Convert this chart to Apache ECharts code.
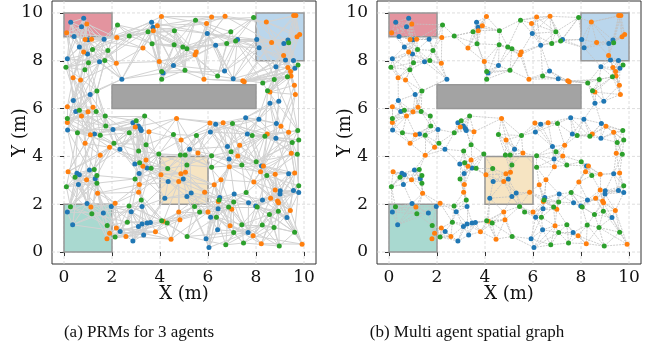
<!DOCTYPE html>
<html>
<head>
<meta charset="utf-8">
<script src="https://cdn.jsdelivr.net/npm/echarts@6/dist/echarts.min.js"></script>
<style>
  html, body { margin: 0; padding: 0; background: #fff; }
  #chart { width: 662px; height: 362px; }
</style>
</head>
<body>
<div id="chart"></div>
<script>
// node positions (m), one list per agent
const blueNodes = [
  [0.28,9.61],[0.82,9.78],[0.73,9.42],[0.42,9.01],[1.00,8.88],[1.67,8.90],[0.64,8.58],[0.98,8.28],
  [0.14,8.08],[1.48,7.96],[2.41,7.23],[1.09,6.59],[0.39,6.34],[0.49,5.88],[0.15,5.10],[1.27,4.94],
  [2.04,5.13],[2.33,4.30],[2.87,5.41],[3.10,5.27],[3.18,5.17],[3.22,5.08],[3.65,9.61],[3.71,9.40],
  [4.56,7.80],[4.13,7.49],[5.97,9.14],[7.23,8.89],[6.32,8.65],[6.69,7.57],[7.05,7.25],[8.03,8.89],
  [9.16,8.72],[9.33,8.87],[8.13,8.54],[9.23,8.03],[9.56,8.01],[8.83,7.75],[9.62,7.69],[8.95,6.31],
  [8.58,6.22],[7.57,5.62],[8.12,5.55],[6.32,5.35],[8.85,5.38],[6.10,5.02],[7.64,4.94],[8.83,4.76],
  [5.23,4.30],[6.81,4.41],[6.88,3.89],[8.23,3.60],[9.36,3.27],[9.01,2.56],[9.00,2.43],[9.56,2.57],
  [9.78,2.49],[7.09,2.43],[8.27,2.18],[7.69,2.06],[6.49,2.28],[6.42,1.81],[7.99,1.93],[9.29,1.45],
  [6.11,1.46],[6.40,0.93],[7.67,0.82],[5.92,0.56],[6.04,0.19],[5.30,2.47],[5.12,2.32],[4.97,3.06],
  [4.34,2.95],[4.20,2.25],[2.95,3.68],[3.46,3.52],[3.13,3.28],[3.25,1.90],[2.80,1.69],[3.10,1.07],
  [3.25,1.17],[3.46,1.22],[3.60,1.24],[2.34,0.86],[2.87,0.46],[3.32,0.71],[0.36,1.14],[0.14,1.67],
  [0.96,2.03],[1.97,1.90],[1.64,1.63],[0.54,3.30],[0.64,3.23],[1.06,3.43],[1.30,3.07],[0.60,2.83]
];
const orangeNodes = [
  [0.95,9.54],[0.11,9.17],[0.88,8.89],[1.15,8.90],[2.20,8.97],[0.82,8.37],[2.18,7.90],[0.38,7.29],
  [0.69,7.20],[0.14,6.08],[1.21,6.06],[1.00,5.87],[0.73,5.69],[0.14,5.42],[1.10,4.91],[0.88,4.55],
  [1.90,4.38],[1.51,4.05],[2.97,5.23],[3.54,5.03],[4.69,5.59],[4.06,9.85],[3.89,9.47],[3.72,9.26],
  [3.29,8.53],[3.97,7.97],[6.15,9.83],[6.71,9.86],[5.94,9.56],[5.51,8.37],[5.46,8.25],[5.83,7.23],
  [7.45,7.16],[7.51,7.12],[8.43,9.62],[9.57,9.89],[9.66,9.89],[9.82,9.10],[9.71,9.00],[8.65,8.76],
  [9.15,8.22],[9.33,7.72],[9.44,7.55],[9.46,7.36],[9.60,6.98],[8.58,6.69],[9.64,6.59],[6.08,5.40],
  [6.63,5.41],[9.04,5.26],[8.47,4.94],[9.36,5.01],[4.88,4.69],[7.32,4.47],[7.24,4.02],[6.89,3.57],
  [6.54,3.02],[6.26,2.81],[8.31,3.60],[8.19,3.36],[7.91,2.93],[8.80,3.25],[9.61,3.31],[9.47,4.13],
  [8.80,2.59],[8.61,2.25],[8.90,2.13],[8.94,2.06],[6.43,2.11],[6.99,1.79],[9.43,1.74],[6.00,1.67],
  [6.92,1.10],[7.88,0.68],[8.22,0.35],[9.92,0.33],[4.46,0.54],[4.78,1.68],[4.83,1.35],[4.14,1.29],
  [3.81,0.85],[2.58,0.65],[2.18,1.01],[1.90,0.79],[1.79,0.56],[2.13,2.04],[1.12,1.88],[1.40,2.46],
  [0.17,3.36],[0.94,3.02],[3.29,3.59],[3.14,2.82],[3.11,2.50],[4.04,3.23],[4.78,2.95],[4.87,3.27],
  [5.06,3.34],[5.86,2.50],[5.58,4.14],[3.42,3.85]
];
const greenNodes = [
  [2.23,9.50],[2.72,9.04],[1.19,8.47],[1.83,8.43],[1.02,7.92],[1.70,8.01],[0.08,7.73],[0.87,7.62],
  [1.37,6.74],[0.64,5.93],[1.34,5.88],[0.14,5.59],[0.56,4.99],[1.51,4.88],[1.74,5.27],[1.72,5.69],
  [2.08,4.55],[2.72,4.99],[3.01,5.49],[3.36,5.69],[3.42,4.49],[3.11,4.23],[3.95,4.10],[3.50,9.21],
  [4.60,9.26],[3.67,8.71],[4.59,8.67],[4.95,8.58],[5.12,8.50],[4.07,7.55],[4.07,7.23],[5.48,9.70],
  [6.95,9.21],[7.15,8.83],[6.78,8.72],[5.04,7.60],[6.40,7.36],[7.90,9.81],[9.36,8.75],[9.75,7.82],
  [9.31,7.33],[8.76,7.22],[8.28,7.07],[8.48,6.75],[7.02,5.38],[9.74,5.08],[5.52,4.87],[7.84,4.87],
  [8.37,4.84],[9.51,4.58],[9.78,4.69],[9.72,4.09],[6.96,4.20],[7.41,3.64],[6.15,4.03],[6.15,3.55],
  [8.01,3.78],[8.45,3.20],[9.78,2.77],[7.59,2.49],[7.07,2.09],[6.46,2.18],[6.86,1.88],[8.05,1.88],
  [8.93,1.71],[8.56,1.57],[6.35,1.46],[5.65,1.67],[7.41,1.14],[8.26,1.13],[7.07,0.82],[8.75,1.03],
  [9.61,0.83],[6.74,0.30],[7.48,0.38],[8.97,0.25],[5.13,0.65],[4.30,1.21],[4.07,1.31],[4.56,4.92],
  [4.85,4.06],[5.05,4.06],[5.12,3.64],[4.32,3.49],[5.44,1.91],[3.15,3.73],[3.63,3.50],[2.96,3.06],
  [3.22,2.18],[2.71,1.93],[2.64,1.25],[2.13,0.63],[1.80,1.11],[0.27,1.89],[1.16,1.60],[0.46,3.13],
  [1.26,3.45],[1.37,3.20],[0.10,2.73],[1.37,2.88]
];

// regions: [x0, y0, x1, y1]
const zones = [[0,9,2,10],[8,8,10,10],[2,6,8,7],[4,2,6,4],[0,0,2,2]];
const zoneFills = ['#e3949f','#bad6ec','#a3a3a3','#f6e4c2','#a9d9d0'];
const obstacle = [2,6,8,7];

const tickValues = [0,2,4,6,8,10];
const captions = ['(a) PRMs for 3 agents', '(b) Multi agent spatial graph'];
const agentColors = ['#1f77b4','#ff7f0e','#2ca02c'];
const agents = [blueNodes, orangeNodes, greenNodes];

// does segment a-b cross the obstacle box
function crossesBox(a, b, r) {
  let t0 = 0, t1 = 1;
  const dx = b[0] - a[0], dy = b[1] - a[1];
  const p = [-dx, dx, -dy, dy];
  const q = [a[0] - r[0], r[2] - a[0], a[1] - r[1], r[3] - a[1]];
  for (let i = 0; i < 4; i++) {
    if (p[i] === 0) { if (q[i] < 0) return false; continue; }
    const t = q[i] / p[i];
    if (p[i] < 0) { if (t > t1) return false; if (t > t0) t0 = t; }
    else { if (t < t0) return false; if (t < t1) t1 = t; }
  }
  return true;
}

function nearestEdges(nodes, k, maxDist) {
  const seen = {}, out = [];
  nodes.forEach((a, i) => {
    const order = nodes.map((b, j) => [j, Math.hypot(a[0]-b[0], a[1]-b[1])])
      .filter(d => d[0] !== i && d[1] <= maxDist)
      .sort((u, v) => u[1] - v[1]);
    let n = 0;
    for (const [j] of order) {
      if (n >= k) break;
      if (crossesBox(a, nodes[j], obstacle)) continue;
      n++;
      const key = Math.min(i, j) + '-' + Math.max(i, j);
      if (seen[key]) continue;
      seen[key] = 1;
      out.push({ coords: [a, nodes[j]] });
    }
  });
  return out;
}

// (a) one roadmap per agent, (b) one shared spatial graph
const prmEdges = [].concat(...agents.map(nodes => nearestEdges(nodes, 7, 99)));
const spatialEdges = nearestEdges([].concat(...agents), 6, 1.5);

const chart = echarts.init(document.getElementById('chart'));
const serif = 'DejaVu Serif';
const gridLeft = [52, 377];

function axisPair(i) {
  const common = {
    gridIndex: i, type: 'value', min: -0.5, max: 10.5,
    axisLine: { show: false },
    splitLine: { show: false },
    axisTick: { show: true, inside: false, length: 4, customValues: tickValues, lineStyle: { color: '#333' } },
    nameTextStyle: { fontFamily: serif, fontSize: 18, color: '#111' },
    nameLocation: 'middle',
    nameMoveOverlap: false
  };
  return [
    Object.assign({}, common, { name: 'X (m)', nameGap: 21,
      axisLabel: { customValues: tickValues, margin: 5, fontFamily: serif, fontSize: 17, color: '#111' } }),
    Object.assign({}, common, { name: 'Y (m)', nameGap: 23,
      axisLabel: { customValues: tickValues, margin: 9, fontFamily: serif, fontSize: 17, color: '#111' } })
  ];
}

const series = [];
[0, 1].forEach(i => {
  // dashed grid at the tick values, under everything
  series.push({
    type: 'custom', xAxisIndex: i, yAxisIndex: i, silent: true, z: 0,
    data: tickValues.map(v => [v]),
    encode: { x: 0 },
    renderItem: (params, api) => {
      const v = api.value(0);
      const a = api.coord([v, -0.5]), b = api.coord([v, 10.5]);
      const c = api.coord([-0.5, v]), d = api.coord([10.5, v]);
      const st = { stroke: '#d6d6d6', lineWidth: 0.8, lineDash: [3, 2] };
      return { type: 'group', children: [
        { type: 'line', shape: { x1: a[0], y1: a[1], x2: b[0], y2: b[1] }, style: st },
        { type: 'line', shape: { x1: c[0], y1: c[1], x2: d[0], y2: d[1] }, style: st }
      ] };
    }
  });
  series.push({
    type: 'custom', xAxisIndex: i, yAxisIndex: i, silent: true, z: 1,
    encode: { x: [0, 2], y: [1, 3] },
    data: zones.map((zn, k) => zn.concat([k])),
    renderItem: (params, api) => {
      const p0 = api.coord([api.value(0), api.value(3)]);
      const p1 = api.coord([api.value(2), api.value(1)]);
      return {
        type: 'rect',
        shape: { x: p0[0], y: p0[1], width: p1[0] - p0[0], height: p1[1] - p0[1] },
        style: { fill: zoneFills[api.value(4)], stroke: '#979797', lineWidth: 1.5 }
      };
    }
  });
  series.push({
    type: 'lines', coordinateSystem: 'cartesian2d', xAxisIndex: i, yAxisIndex: i,
    silent: true, z: 2, animation: false,
    data: i === 0 ? prmEdges : spatialEdges,
    lineStyle: i === 0
      ? { color: '#d2d2d2', width: 1, opacity: 1 }
      : { color: '#c2c2c2', width: 0.8, opacity: 1, type: [2, 1] }
  });
  agents.forEach((nodes, a) => {
    series.push({
      type: 'scatter', xAxisIndex: i, yAxisIndex: i, z: 3, silent: true,
      data: nodes, symbolSize: 5,
      itemStyle: { color: agentColors[a], opacity: 1 }
    });
  });
});

const axesA = axisPair(0), axesB = axisPair(1);

chart.setOption({
  animation: false,
  backgroundColor: '#fff',
  grid: gridLeft.map(l => ({
    left: l, top: 1, width: 264, height: 263, show: true,
    borderColor: '#333', borderWidth: 1, backgroundColor: 'transparent'
  })),
  xAxis: [axesA[0], axesB[0]],
  yAxis: [axesA[1], axesB[1]],
  series: series,
  graphic: captions.map((t, i) => ({
    type: 'text', x: [139, 467][i], y: 333,
    style: { text: t, fontFamily: 'Liberation Serif', fontSize: 17, fill: '#111',
             textAlign: 'center', textVerticalAlign: 'middle' }
  }))
});
</script>
</body>
</html>
